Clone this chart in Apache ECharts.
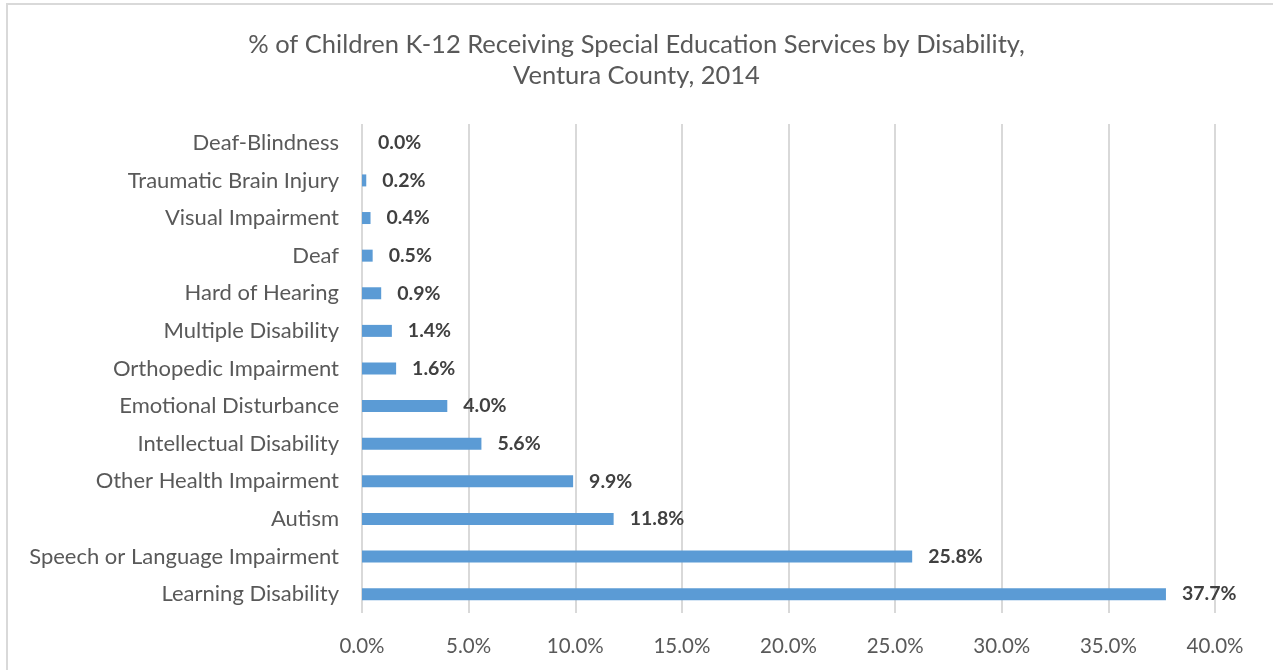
<!DOCTYPE html>
<html lang="en" style="height: 100%">
<head>
  <meta charset="utf-8">
</head>
<body style="height: 100%; margin: 0">
  <div id="container" style="height: 100%"></div>

  <script type="text/javascript" src="https://fastly.jsdelivr.net/npm/echarts@6/dist/echarts.min.js"></script>
  <script type="text/javascript">
    var dom = document.getElementById('container');
    var myChart = echarts.init(dom, null, {
      renderer: 'canvas',
      useDirtyRect: false
    });

// categories listed from the bottom bar up
var categories = [
  'Learning Disability',
  'Speech or Language Impairment',
  'Autism',
  'Other Health Impairment',
  'Intellectual Disability',
  'Emotional Disturbance',
  'Orthopedic Impairment',
  'Multiple Disability',
  'Hard of Hearing',
  'Deaf',
  'Visual Impairment',
  'Traumatic Brain Injury',
  'Deaf-Blindness'
];
var percents = [37.7, 25.8, 11.8, 9.9, 5.6, 4.0, 1.6, 1.4, 0.9, 0.5, 0.4, 0.2, 0.0];
var xTicks = [0, 5, 10, 15, 20, 25, 30, 35, 40];

var fontFamily = 'Lato, "Open Sans", sans-serif';

var option = {
  animation: false,
  backgroundColor: '#fff',
  title: {
    text: '% of Children K-12 Receiving Special Education Services by Disability,\nVentura County, 2014',
    left: 'center',
    top: 24,
    textStyle: {
      fontFamily: fontFamily,
      fontWeight: 'normal',
      fontSize: 25.5,
      lineHeight: 31,
      color: '#595959'
    }
  },
  graphic: [
    {
      type: 'rect',
      shape: { x: 7, y: 4, width: 1300, height: 700 },
      style: { fill: 'none', stroke: '#d9d9d9', lineWidth: 2 },
      silent: true
    }
  ],
  grid: {
    left: 362,
    right: 58,
    top: 124,
    bottom: 57
  },
  xAxis: {
    type: 'value',
    min: xTicks[0],
    max: xTicks[xTicks.length - 1],
    interval: 5,
    axisLine: { show: false },
    axisTick: { show: false },
    splitLine: { lineStyle: { color: '#d9d9d9', width: 2 } },
    axisLabel: {
      margin: 23,
      fontFamily: fontFamily,
      fontSize: 20.5,
      color: '#595959',
      formatter: function (v) { return v.toFixed(1) + '%'; }
    }
  },
  yAxis: {
    type: 'category',
    data: categories,
    axisLine: { show: false },
    axisTick: { show: false },
    axisLabel: {
      margin: 23,
      fontFamily: fontFamily,
      fontSize: 22,
      color: '#595959'
    }
  },
  series: [
    {
      type: 'bar',
      data: percents,
      barWidth: 12,
      itemStyle: { color: '#5b9bd5' },
      label: {
        show: true,
        position: 'right',
        distance: 16,
        fontFamily: fontFamily,
        fontWeight: 'bold',
        fontSize: 19.5,
        color: '#404040',
        formatter: function (p) { return p.value.toFixed(1) + '%'; }
      }
    }
  ]
};

    myChart.setOption(option);

    window.addEventListener('resize', myChart.resize);
  </script>
</body>
</html>
